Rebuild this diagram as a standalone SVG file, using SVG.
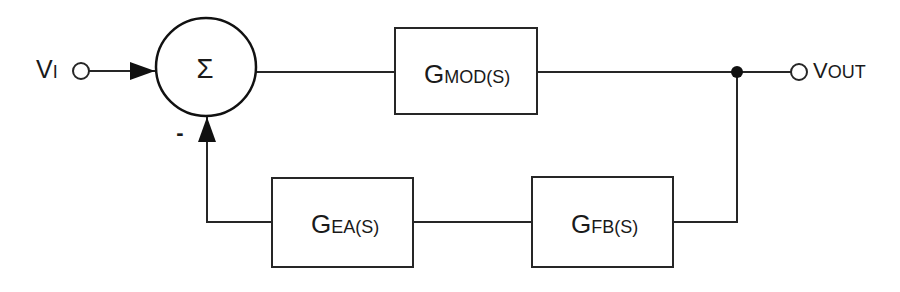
<svg xmlns="http://www.w3.org/2000/svg" width="900" height="292" viewBox="0 0 900 292">
<style>
.ln{fill:none;stroke:#262626;stroke-width:2}
.box{fill:#fff;stroke:#262626;stroke-width:2}
.t{font-family:"Liberation Sans",Arial,sans-serif;fill:#1a1a1a}
</style>
<defs>
<marker id="ah" markerWidth="25" markerHeight="18" refX="25" refY="9" orient="auto" markerUnits="userSpaceOnUse">
<path d="M0,0 L25,9 L0,18 Z" fill="#111"/>
</marker>
</defs>
<rect width="900" height="292" fill="#fff"/>
<g id="connectors">
<line class="ln" x1="89" y1="71" x2="155" y2="71" marker-end="url(#ah)"/>
<line class="ln" x1="255" y1="72" x2="395" y2="72"/>
<line class="ln" x1="537" y1="72" x2="791" y2="72"/>
<polyline class="ln" points="737,72 737,222 673,222"/>
<line class="ln" x1="413" y1="222" x2="532" y2="222"/>
<polyline class="ln" points="272,222 207,222 207,117" marker-end="url(#ah)"/>
<circle cx="737" cy="72" r="6" fill="#111"/>
</g>
<g id="vi">
<circle cx="81" cy="71" r="8" fill="#fff" stroke="#262626" stroke-width="2"/>
<text class="t" x="36" y="78"><tspan font-size="25">V</tspan><tspan font-size="18">I</tspan></text>
</g>
<g id="sum">
<ellipse cx="206" cy="67" rx="50" ry="49" fill="#fff" stroke="#111" stroke-width="2.5"/>
<text class="t" x="205" y="78" font-size="28" text-anchor="middle" textLength="17" lengthAdjust="spacingAndGlyphs">Σ</text>
<text class="t" x="180" y="140" font-size="22" font-weight="bold" text-anchor="middle">-</text>
</g>
<g id="gmod">
<rect class="box" x="395" y="28" width="142" height="86"/>
<text class="t" x="424" y="83"><tspan font-size="26">G</tspan><tspan font-size="18">MOD(S)</tspan></text>
</g>
<g id="vout">
<circle cx="799" cy="72" r="8" fill="#fff" stroke="#262626" stroke-width="2"/>
<text class="t" x="813" y="78"><tspan font-size="22">V</tspan><tspan font-size="18">OUT</tspan></text>
</g>
<g id="gea">
<rect class="box" x="272" y="178" width="141" height="89"/>
<text class="t" x="311" y="233"><tspan font-size="26">G</tspan><tspan font-size="18">EA(S)</tspan></text>
</g>
<g id="gfb">
<rect class="box" x="532" y="177" width="141" height="90"/>
<text class="t" x="571" y="233"><tspan font-size="26">G</tspan><tspan font-size="18">FB(S)</tspan></text>
</g>
</svg>
